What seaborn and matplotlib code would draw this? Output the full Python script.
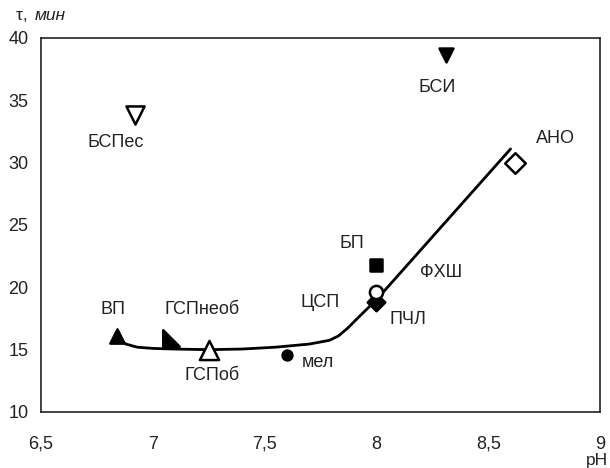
import numpy as np
import pandas as pd
import matplotlib
matplotlib.use("Agg")
import matplotlib.pyplot as plt
from matplotlib.path import Path
import seaborn as sns

# Sample points: pH and setting time
names = ["ВП", "ГСПнеоб", "ГСПоб", "мел", "БП", "ФХШ", "ПЧЛ", "АНО", "БСПес", "БСИ"]
ph = [6.84, 7.08, 7.25, 7.60, 8.00, 8.00, 8.00, 8.62, 6.92, 8.31]
tau = [16.1, 15.9, 15.0, 14.6, 21.8, 19.6, 18.8, 30.0, 33.8, 38.6]

# Trend curve
curve_ph = [6.84, 6.88, 6.93, 7.00, 7.10, 7.25, 7.40, 7.55, 7.70, 7.79, 7.83, 7.87, 7.92, 8.00, 8.60]
curve_tau = [15.9, 15.45, 15.2, 15.1, 15.05, 15.0, 15.05, 15.2, 15.45, 15.75, 16.1, 16.7, 17.6, 19.0, 31.1]

# Label texts and positions (ЦСП marks the bend of the curve)
label_names = names + ["ЦСП"]
label_ph = [6.82, 7.22, 7.265, 7.74, 7.89, 8.29, 8.14, 8.80, 6.835, 8.27, 7.75]
label_tau = [18.2, 18.2, 12.95, 14.0, 23.55, 21.2, 17.45, 31.95, 31.65, 36.05, 18.75]

xticks = [6.5, 7, 7.5, 8, 8.5, 9]
xticklabels = ["6,5", "7", "7,5", "8", "8,5", "9"]
yticks = [10, 15, 20, 25, 30, 35, 40]

sns.set_theme(style="white")
plt.rcParams["font.family"] = ["Liberation Sans", "DejaVu Sans"]

fig = plt.figure(figsize=(6.10, 4.68), dpi=100)
ax = fig.add_axes([41 / 610, 1 - 412 / 468, (600 - 41) / 610, (412 - 38) / 468])

curve = pd.DataFrame({"ph": curve_ph, "tau": curve_tau})
sns.lineplot(data=curve, x="ph", y="tau", ax=ax, color="black", lw=2.0,
             sort=False, estimator=None)

corner_tri = Path([(-1, -1), (1, -1), (-1, 1), (-1, -1)],
                  [Path.MOVETO, Path.LINETO, Path.LINETO, Path.CLOSEPOLY])

styles = {
    "ВП": dict(marker="^", s=105, facecolor="black"),
    "ГСПнеоб": dict(marker=corner_tri, s=140, facecolor="black"),
    "ГСПоб": dict(marker="^", s=190, facecolor="white"),
    "мел": dict(marker="o", s=50, facecolor="black"),
    "БП": dict(marker="s", s=65, facecolor="black"),
    "ФХШ": dict(marker="o", s=90, facecolor="white"),
    "ПЧЛ": dict(marker="D", s=80, facecolor="black"),
    "АНО": dict(marker="D", s=110, facecolor="white"),
    "БСПес": dict(marker="v", s=170, facecolor="white"),
    "БСИ": dict(marker="v", s=100, facecolor="black"),
}

points = pd.DataFrame({"name": names, "ph": ph, "tau": tau})
order = ["ПЧЛ", "ФХШ"] + [n for n in names if n not in ("ПЧЛ", "ФХШ")]
for n in order:
    row = points[points["name"] == n]
    st = styles[n]
    sns.scatterplot(data=row, x="ph", y="tau", ax=ax, marker=st["marker"], s=st["s"],
                    color=st["facecolor"], edgecolor="black", linewidth=1.8, zorder=4)

for n, lx, ly in zip(label_names, label_ph, label_tau):
    ax.text(lx, ly, n, ha="center", va="center", fontsize=13, color="#222222")

ax.set_xlim(6.5, 9)
ax.set_ylim(10, 40)
ax.set_xticks(xticks)
ax.set_xticklabels(xticklabels)
ax.set_yticks(yticks)
ax.set_xlabel("")
ax.set_ylabel("")
ax.tick_params(axis="both", direction="in", length=7, width=1.0, color="#222222",
               labelsize=13, labelcolor="#222222")
ax.tick_params(axis="x", pad=17)
ax.tick_params(axis="y", pad=9)
for sp in ax.spines.values():
    sp.set_visible(True)
    sp.set_color("#222222")
    sp.set_linewidth(1.2)

fig.text(16 / 610, 1 - 15 / 468, "τ, ", ha="left", va="center", fontsize=12.5, color="#222222")
fig.text(35 / 610, 1 - 15 / 468, "мин", ha="left", va="center", fontsize=12.5,
         style="italic", color="#222222")
fig.text(597 / 610, 1 - 461 / 468, "pH", ha="center", va="center", fontsize=12.5, color="#222222")

fig.savefig("out.png", dpi=100)
